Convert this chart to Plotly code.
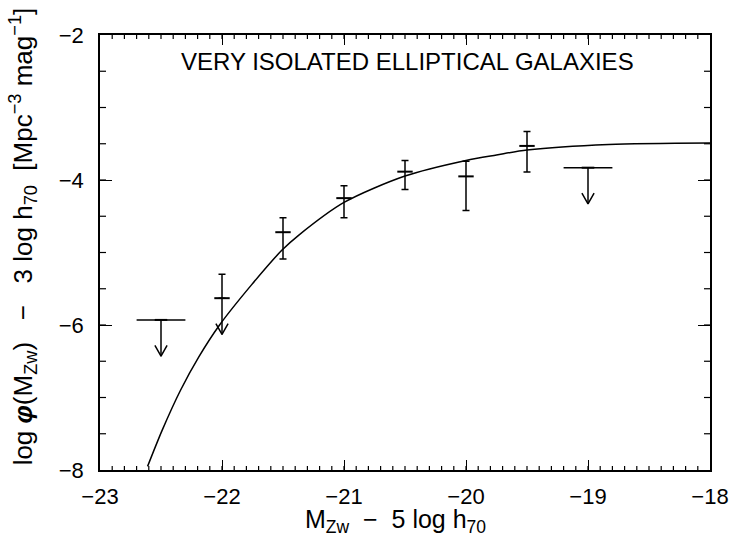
import plotly.graph_objects as go

# ---- data ----
# fitted luminosity function (solid curve)
curve_mag = [-22.61, -22.49, -22.34, -22.19, -22.02, -21.76, -21.51, -21.37,
             -21.0, -20.5, -20.0, -19.75, -19.5, -18.83, -18.0]
curve_logphi = [-7.95, -7.45, -6.90, -6.44, -6.0, -5.45, -4.97, -4.76,
                -4.31, -3.945, -3.73, -3.655, -3.586, -3.51, -3.49]

# binned measurements with error bars
det_mag = [-22.0, -21.5, -21.0, -20.5, -20.0, -19.5]
det_logphi = [-5.63, -4.72, -4.25, -3.885, -3.95, -3.53]
det_err_up = [0.33, 0.20, 0.17, 0.155, 0.21, 0.20]
det_err_lo = [0.0, 0.37, 0.27, 0.245, 0.47, 0.36]

# upper limits (horizontal bin bar + downward arrow)
lim_mag = [-22.5, -19.0]
lim_logphi = [-5.93, -3.83]
lim_halfbin = [0.2, 0.2]

# points drawn with a downward arrow
arrow_mag = [-22.5, -22.0, -19.0]
arrow_logphi = [-5.93, -5.63, -3.83]

# axis ticks
x_range = [-23, -18]
y_range = [-8, -2]
x_major_step = 1
y_major_step = 2
x_minor_step = 0.1
y_minor_step = 0.5

# ---- styles ----
ARROW_LEN = 0.5
HEAD_DX = 0.05
HEAD_DY = 0.15
LW = 1.5
FONT = "Liberation Sans"
SP = "&nbsp;"
X_MINOR_LEN = 4
Y_MINOR_LEN = 6

fig = go.Figure()

fig.add_trace(go.Scatter(
    x=curve_mag, y=curve_logphi, mode="lines",
    line=dict(color="black", width=LW, shape="spline", smoothing=0.8),
    showlegend=False, hoverinfo="skip"))

fig.add_trace(go.Scatter(
    x=det_mag, y=det_logphi, mode="markers",
    marker=dict(symbol="line-ew", size=11, line=dict(color="black", width=2)),
    error_y=dict(type="data", symmetric=False, array=det_err_up,
                 arrayminus=det_err_lo, color="black", thickness=LW, width=3.5),
    showlegend=False))

fig.add_trace(go.Scatter(
    x=lim_mag, y=lim_logphi, mode="markers",
    marker=dict(symbol="line-ew", size=9, line=dict(color="black", width=2)),
    error_x=dict(type="data", array=lim_halfbin, color="black",
                 thickness=LW, width=0),
    showlegend=False))

# arrows (shaft + open V head) built from the data points
ax, ay = [], []
for m, v in zip(arrow_mag, arrow_logphi):
    tip = v - ARROW_LEN
    ax += [m, m, None, m - HEAD_DX, m, m + HEAD_DX, None]
    ay += [v, tip, None, tip + HEAD_DY, tip, tip + HEAD_DY, None]
fig.add_trace(go.Scatter(x=ax, y=ay, mode="lines",
                         line=dict(color="black", width=LW),
                         showlegend=False, hoverinfo="skip"))

# minor ticks on all four sides (pixel-length shapes anchored to the axes)
nx = int(round((x_range[1] - x_range[0]) / x_minor_step))
ny = int(round((y_range[1] - y_range[0]) / y_minor_step))
x_minor_vals = [x_range[0] + i * x_minor_step for i in range(1, nx)]
y_minor_vals = [y_range[0] + i * y_minor_step for i in range(1, ny)]
tick_line = dict(color="black", width=1.2)
for xv in x_minor_vals:
    for anchor, sgn in ((0, 1), (1, -1)):
        fig.add_shape(type="line", xref="x", yref="paper", ysizemode="pixel",
                      yanchor=anchor, x0=xv, x1=xv, y0=0, y1=sgn * X_MINOR_LEN,
                      line=tick_line, layer="above")
for yv in y_minor_vals:
    for anchor, sgn in ((0, 1), (1, -1)):
        fig.add_shape(type="line", xref="paper", yref="y", xsizemode="pixel",
                      xanchor=anchor, x0=0, x1=sgn * Y_MINOR_LEN, y0=yv, y1=yv,
                      line=tick_line, layer="above")

line_common = dict(showline=True, linecolor="black", linewidth=1.5,
                   mirror="ticks", ticks="inside", tickcolor="black",
                   tickwidth=1.2, showgrid=False, zeroline=False)

fig.update_layout(
    xaxis=dict(range=x_range, tickmode="linear", tick0=x_range[0],
               dtick=x_major_step, ticklen=10, ticklabelstandoff=6,
               tickfont=dict(family=FONT, size=22, color="black"),
               **line_common),
    yaxis=dict(range=y_range, tickmode="linear", tick0=y_range[0],
               dtick=y_major_step, ticklen=12, ticklabelstandoff=10,
               tickfont=dict(family=FONT, size=22, color="black"),
               **line_common),
)

fig.add_annotation(text="VERY ISOLATED ELLIPTICAL GALAXIES",
                   xref="paper", yref="paper", x=0.504, y=0.938,
                   xanchor="center", yanchor="middle",
                   showarrow=False, font=dict(family=FONT, size=24, color="black"))
fig.add_annotation(text=f"M<sub>Zw</sub>{SP*2}−{SP*2}5 log h<sub>70</sub>",
                   xref="paper", yref="paper", x=0.485, y=-0.118,
                   xanchor="center", yanchor="middle",
                   showarrow=False, font=dict(family=FONT, size=25, color="black"))
fig.add_annotation(text=f"log <b><i>φ</i></b>(M<sub>Zw</sub>){SP*3}−{SP*3}3 log h<sub>70</sub>{SP*2}[Mpc<sup>−3</sup> mag<sup>−1</sup>]",
                   xref="paper", yref="paper", x=-0.127, y=0.536, textangle=-90,
                   xanchor="center", yanchor="middle",
                   showarrow=False, font=dict(family=FONT, size=26, color="black"))

fig.update_layout(width=741, height=548,
                  margin=dict(l=100, r=26, t=35, b=78),
                  paper_bgcolor="white", plot_bgcolor="white")

fig.write_html("out.html", config={"displayModeBar": False},
               post_script="document.body.style.margin='0px';")
